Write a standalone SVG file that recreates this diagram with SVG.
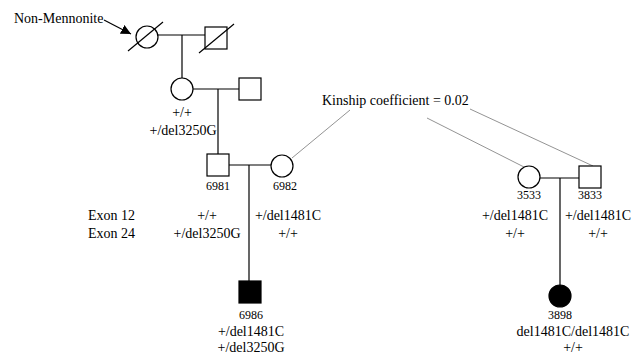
<svg xmlns="http://www.w3.org/2000/svg" width="640" height="356" viewBox="0 0 640 356">
<defs>
<marker id="ah" viewBox="0 0 10 10" refX="10" refY="5" markerWidth="10" markerHeight="10" markerUnits="userSpaceOnUse" orient="auto"><path d="M0,0 L10,5 L0,10 z" fill="#000"/></marker>
</defs>
<style>
.sym{fill:#fff;stroke:#000;stroke-width:1.2}
.aff{fill:#000;stroke:#000;stroke-width:1.2}
.ln{stroke:#000;stroke-width:1.2;fill:none}
.kin{stroke:#777;stroke-width:0.8;fill:none}
text{font-family:"Liberation Serif","Times New Roman",serif;fill:#000}
.t{font-size:14px}
.id{font-size:12px}
.c{text-anchor:middle}
</style>
<rect width="640" height="356" fill="#fff"/>
<g id="connectors">
<line class="ln" x1="158" y1="35" x2="205" y2="35"/>
<line class="ln" x1="182" y1="35" x2="182" y2="78"/>
<line class="ln" x1="193" y1="89" x2="239" y2="89"/>
<line class="ln" x1="218" y1="89" x2="218" y2="154"/>
<line class="ln" x1="229" y1="165" x2="271" y2="165"/>
<line class="ln" x1="249" y1="165" x2="249" y2="281"/>
<line class="ln" x1="540" y1="178" x2="579" y2="178"/>
<line class="ln" x1="560" y1="178" x2="560" y2="285"/>
<line class="ln" x1="104" y1="20" x2="131" y2="34" marker-end="url(#ah)"/>
<line class="kin" x1="350" y1="110" x2="292" y2="158"/>
<line class="kin" x1="427" y1="118" x2="524" y2="167"/>
<line class="kin" x1="470" y1="109" x2="593" y2="166"/>
</g>
<g id="label-nonmennonite"><text class="t" x="14" y="23">Non-Mennonite</text></g>
<g id="gen1-female"><circle class="sym" cx="147" cy="37" r="11"/><line class="ln" x1="128" y1="51" x2="163" y2="22"/></g>
<g id="gen1-male"><rect class="sym" x="205" y="27" width="22" height="22"/><line class="ln" x1="199" y1="53" x2="234" y2="24"/></g>
<g id="gen2-female"><circle class="sym" cx="182" cy="89" r="11"/>
<text class="t c" x="182" y="117">+/+</text><text class="t c" x="183" y="135">+/del3250G</text></g>
<g id="gen2-male"><rect class="sym" x="239" y="78" width="22" height="22"/></g>
<g id="n6981"><rect class="sym" x="207" y="154" width="22" height="22"/><text class="id c" x="218" y="190">6981</text>
<text class="t c" x="207" y="220">+/+</text><text class="t c" x="207" y="238">+/del3250G</text></g>
<g id="n6982"><circle class="sym" cx="282" cy="166" r="11"/><text class="id c" x="285" y="190">6982</text>
<text class="t c" x="288" y="220">+/del1481C</text><text class="t c" x="288" y="238">+/+</text></g>
<g id="exon-labels"><text class="t" x="88" y="220">Exon 12</text><text class="t" x="88" y="238">Exon 24</text></g>
<g id="n6986"><rect class="aff" x="239" y="281" width="22" height="22"/><text class="id c" x="251" y="319">6986</text>
<text class="t c" x="251" y="336">+/del1481C</text><text class="t c" x="251" y="352">+/del3250G</text></g>
<g id="kinship"><text class="t" x="322" y="105">Kinship coefficient = 0.02</text></g>
<g id="n3533"><circle class="sym" cx="529" cy="177" r="11"/><text class="id c" x="529" y="199">3533</text>
<text class="t c" x="515" y="220">+/del1481C</text><text class="t c" x="515" y="238">+/+</text></g>
<g id="n3833"><rect class="sym" x="579" y="166" width="22" height="22"/><text class="id c" x="590" y="199">3833</text>
<text class="t c" x="598" y="220">+/del1481C</text><text class="t c" x="598" y="238">+/+</text></g>
<g id="n3898"><circle class="aff" cx="560" cy="296" r="11"/><text class="id c" x="560" y="319">3898</text>
<text class="t c" x="573" y="336">del1481C/del1481C</text><text class="t c" x="573" y="352">+/+</text></g>
</svg>
